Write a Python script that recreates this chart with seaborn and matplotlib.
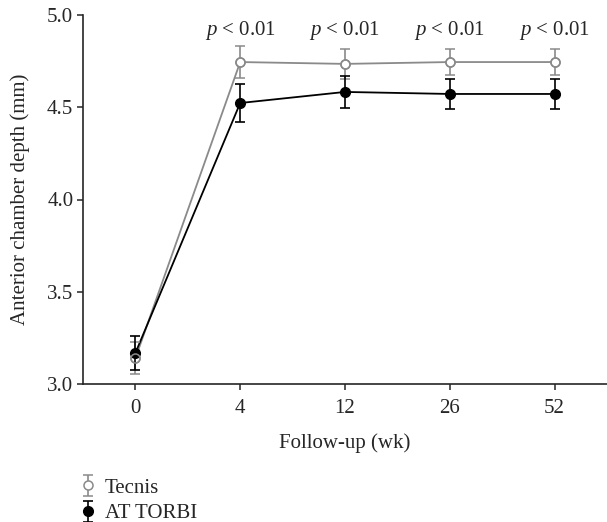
import numpy as np
import pandas as pd
import seaborn as sns
import matplotlib.pyplot as plt

# follow-up weeks (categorical, evenly spaced on the axis)
weeks = ["0", "4", "12", "26", "52"]

tecnis_mean = [3.14, 4.745, 4.735, 4.745, 4.745]
tecnis_err = [0.085, 0.085, 0.08, 0.07, 0.07]

torbi_mean = [3.168, 4.523, 4.583, 4.572, 4.572]
torbi_err = [0.09, 0.105, 0.085, 0.08, 0.08]

p_labels = ["", "< 0.01", "< 0.01", "< 0.01", "< 0.01"]

sns.set_style("ticks")
plt.rcParams["font.family"] = ["Liberation Serif", "DejaVu Serif"]
plt.rcParams["mathtext.fontset"] = "custom"
plt.rcParams["mathtext.it"] = "Liberation Serif:italic"
plt.rcParams["mathtext.rm"] = "Liberation Serif"

pos = np.arange(len(weeks))
df = pd.DataFrame({
    "pos": np.concatenate([pos, pos]),
    "depth": tecnis_mean + torbi_mean,
    "group": ["Tecnis"] * len(weeks) + ["AT TORBI"] * len(weeks),
})

fig = plt.figure(figsize=(6.07, 5.22), dpi=100)
ax = fig.add_axes([83 / 607, 138 / 522, 1 - 83 / 607, 369 / 522])

gray = "#8a8a8a"
sns.lineplot(data=df, x="pos", y="depth", hue="group",
             palette={"Tecnis": gray, "AT TORBI": "black"},
             lw=1.3, legend=False, ax=ax)

h1 = ax.errorbar(pos, tecnis_mean, yerr=tecnis_err, fmt="o", color=gray,
                 mfc="white", mec=gray, ms=6.5, mew=1.1, elinewidth=1.2,
                 capsize=3.5, capthick=1.2, zorder=3, label="Tecnis")
h2 = ax.errorbar(pos, torbi_mean, yerr=torbi_err, fmt="o", color="black",
                 ms=7, elinewidth=1.2, capsize=3.5, capthick=1.2,
                 zorder=4, label="AT TORBI")
# open Tecnis markers on top, the line shows through them
ax.plot(pos, tecnis_mean, "o", mfc="none", mec=gray, ms=6.5, mew=1.1, zorder=5)

for x, lab in zip(pos, p_labels):
    if lab:
        ax.text(x, 4.915, r"$\it{p}$ " + lab, ha="center", va="center", fontsize=15)

ax.set_xlim(-0.5, 4.5)
ax.set_ylim(3.0, 5.0)
ax.set_xticks(pos)
ax.set_xticklabels(weeks)
ax.set_yticks([3.0, 3.5, 4.0, 4.5, 5.0])
ax.set_yticklabels(["3.0", "3.5", "4.0", "4.5", "5.0"])
ax.tick_params(labelsize=15, length=4, width=1.1, direction="out")
ax.tick_params(axis="x", pad=7)
ax.tick_params(axis="y", pad=3)
ax.set_xlabel("Follow-up (wk)", fontsize=15, labelpad=11)
ax.set_ylabel("Anterior chamber depth (mm)", fontsize=15, labelpad=12)
sns.despine(ax=ax)
for s in ["left", "bottom"]:
    ax.spines[s].set_linewidth(1.2)

fig.legend(handles=[h1, h2], labels=["Tecnis", "AT TORBI"], loc="upper left",
           bbox_to_anchor=(78 / 607, 1 - 478 / 522), frameon=False,
           borderpad=0, borderaxespad=0,
           fontsize=15, handlelength=1.0, handletextpad=0.3, labelspacing=0.3)

fig.savefig("out.png", dpi=100)
